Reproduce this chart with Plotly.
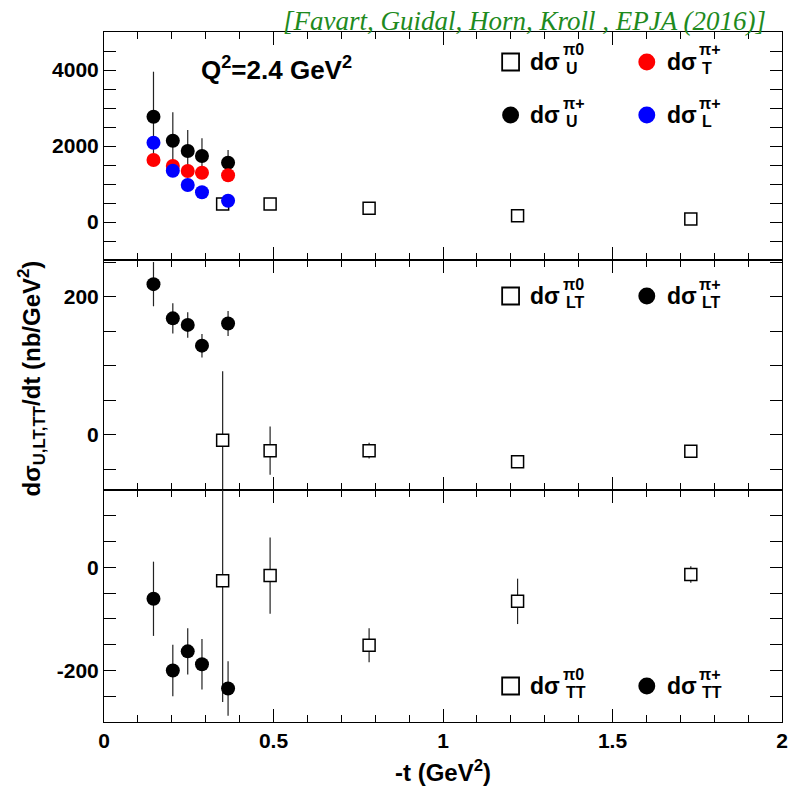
import plotly.graph_objects as go
from plotly.subplots import make_subplots

# ---------------- data ----------------
t_pip = [0.146, 0.203, 0.247, 0.289, 0.366]
t_pi0 = [0.350, 0.490, 0.782, 1.220, 1.731]

sigU_pip = [2771, 2139, 1868, 1737, 1561]
sigU_pip_err = [1184, 748, 553, 466, 334]
sigT_pip = [1632, 1474, 1342, 1297, 1229]
sigL_pip = [2087, 1350, 974, 782, 561]
sigU_pi0 = [474, 474, 360, 166, 79]

sigLT_pip = [218, 168.5, 159, 129, 161]
sigLT_pip_err = [32, 22, 18.5, 17, 18]
sigLT_pi0 = [-8, -23, -23, -39, -24]
sigLT_pi0_err = [100, 35, 11.5, 4, 4]

sigTT_pip = [-61, -200, -163, -188, -235]
sigTT_pip_err = [72, 50, 45, 49, 53]
sigTT_pi0 = [-26, -16, -151, -66, -14]
sigTT_pi0_err = [235, 74, 33, 44, 16]

x_tickvals = [0, 0.5, 1, 1.5, 2]
x_ticktext = ["0", "0.5", "1", "1.5", "2"]
y1_tickvals = [0, 2000, 4000]
y1_ticktext = ["0", "2000", "4000"]
y2_tickvals = [0, 200]
y2_ticktext = ["0", "200"]
y3_tickvals = [-200, 0]
y3_ticktext = ["-200", "0"]

# ---------------- geometry (screenshot pixels) ----------------
OFF = 8                      # default body margin of the html page
W, H = 800 - OFF, 787 - OFF
L, R, T, B = 104, 786, 32, 722
PW, PH = R - L, B - T

def px(x):
    return (x - L) / PW

def py(y):
    return (B - y) / PH

FONT = "Liberation Sans"

fig = make_subplots(rows=3, cols=1, shared_xaxes=True, vertical_spacing=0)

d3 = [0, (B - 490) / PH]
d2 = [(B - 490) / PH, (B - 260) / PH]
d1 = [(B - 260) / PH, 1]

def open_sq(x, y, err, row):
    fig.add_trace(go.Scatter(
        x=x, y=y, mode="markers",
        marker=dict(symbol="square", size=12, color="white",
                    line=dict(color="black", width=1.5)),
        error_y=dict(type="data", array=err, visible=err is not None,
                     color="#222", thickness=1.2, width=0),
        showlegend=False), row=row, col=1)

def circ(x, y, err, color, row):
    fig.add_trace(go.Scatter(
        x=x, y=y, mode="markers",
        marker=dict(symbol="circle", size=14, color=color, line=dict(width=0)),
        error_y=dict(type="data", array=err, visible=err is not None,
                     color="#222", thickness=1.2, width=0),
        showlegend=False), row=row, col=1)

# top panel
open_sq(t_pi0, sigU_pi0, None, 1)
circ(t_pip, sigU_pip, sigU_pip_err, "black", 1)
circ(t_pip, sigT_pip, None, "#ff0000", 1)
circ(t_pip, sigL_pip, None, "#0000ff", 1)
# middle panel
open_sq(t_pi0, sigLT_pi0, sigLT_pi0_err, 2)
circ(t_pip, sigLT_pip, sigLT_pip_err, "black", 2)
# bottom panel
open_sq(t_pi0, sigTT_pi0, sigTT_pi0_err, 3)
circ(t_pip, sigTT_pip, sigTT_pip_err, "black", 3)

tickfont = dict(family=FONT, size=21, color="black", weight="bold")

xcommon = dict(range=[0, 2], tickmode="array", tickvals=x_tickvals, ticktext=x_ticktext,
               ticks="inside", ticklen=13, tickcolor="black", tickwidth=1,
               minor=dict(dtick=0.1, tick0=0, ticks="inside", ticklen=7, tickcolor="black"),
               showline=True, linecolor="black", linewidth=1, mirror="allticks",
               showgrid=False, zeroline=False, tickfont=tickfont)
for i in (1, 2, 3):
    fig.update_xaxes(**xcommon, row=i, col=1)
fig.update_xaxes(showticklabels=False, row=1, col=1)
fig.update_xaxes(showticklabels=False, row=2, col=1)
fig.update_xaxes(showticklabels=True, row=3, col=1)

ycommon = dict(ticks="inside", ticklen=12, tickcolor="black", tickwidth=1,
               showline=True, linecolor="black", linewidth=1, mirror="allticks",
               showgrid=False, zeroline=False, tickfont=tickfont, tickmode="array")
fig.update_yaxes(**ycommon, range=[-1000, 5000], tickvals=y1_tickvals, ticktext=y1_ticktext,
                 minor=dict(dtick=500, tick0=0, ticks="inside", ticklen=12, tickcolor="black"),
                 domain=d1, row=1, col=1)
fig.update_yaxes(**ycommon, range=[-80, 253], tickvals=y2_tickvals, ticktext=y2_ticktext,
                 minor=dict(dtick=50, tick0=0, ticks="inside", ticklen=12, tickcolor="black"),
                 domain=d2, row=2, col=1)
fig.update_yaxes(**ycommon, range=[-300, 150], tickvals=y3_tickvals, ticktext=y3_ticktext,
                 minor=dict(dtick=50, tick0=0, ticks="inside", ticklen=12, tickcolor="black"),
                 domain=d3, row=3, col=1)

annotations = []
shapes = []

def ann(x, y, text, size, xanchor="left", bold=True, **kw):
    annotations.append(dict(
        xref="paper", yref="paper", x=px(x), y=py(y), text=text, showarrow=False,
        xanchor=xanchor, yanchor="middle",
        font=dict(family=kw.pop("family", FONT), size=size, color=kw.pop("color", "black"),
                  weight="bold" if bold else "normal"), **kw))

# title
annotations.append(dict(
    xref="paper", yref="paper", x=px(772), y=py(OFF - 4),
    text="<i>[Favart, Guidal, Horn, Kroll , EPJA (2016)]</i>",
    showarrow=False, xanchor="right", yanchor="top",
    font=dict(family="Liberation Serif", size=27, color="#1E8A1E")))
# Q2 label
ann(200, 69, "Q<sup>2</sup>=2.4 GeV<sup>2</sup>", 26)
# axis titles
ann(445, 771, "-t (GeV<sup>2</sup>)", 24, xanchor="center", bold=True)
annotations.append(dict(
    xref="paper", yref="paper", x=px(31), y=py(378), showarrow=False, textangle=-90,
    xanchor="center", yanchor="middle",
    text="dσ<sub>U,LT,TT</sub>/dt (nb/GeV<sup>2</sup>)",
    font=dict(family=FONT, size=24, color="black", weight="bold")))

def legend_entry(xc, yc, kind, color, sup, sub):
    if kind == "square":
        s = 8.5
        shapes.append(dict(type="rect", xref="paper", yref="paper",
                           x0=px(xc - s), x1=px(xc + s), y0=py(yc + s), y1=py(yc - s),
                           line=dict(color="black", width=1.8), fillcolor="white"))
    else:
        r = 8.5
        shapes.append(dict(type="circle", xref="paper", yref="paper",
                           x0=px(xc - r), x1=px(xc + r), y0=py(yc + r), y1=py(yc - r),
                           line=dict(width=0), fillcolor=color))
    ann(xc + 18, yc, "dσ", 23)
    ann(xc + 51, yc - 12, sup, 16)
    ann(xc + 54, yc + 6, sub, 16)

legend_entry(513, 62, "square", "black", "π0", "U")
legend_entry(650, 62, "circle", "#ff0000", "π+", "T")
legend_entry(513, 115, "circle", "black", "π+", "U")
legend_entry(650, 115, "circle", "#0000ff", "π+", "L")
legend_entry(513, 296, "square", "black", "π0", "LT")
legend_entry(650, 296, "circle", "black", "π+", "LT")
legend_entry(513, 686, "square", "black", "π0", "TT")
legend_entry(650, 686, "circle", "black", "π+", "TT")

fig.update_layout(
    width=W, height=H,
    margin=dict(l=L - OFF, r=W - (R - OFF), t=T - OFF, b=H - (B - OFF)),
    paper_bgcolor="white", plot_bgcolor="white",
    showlegend=False,
    annotations=annotations, shapes=shapes,
)

fig.write_html("out.html")
